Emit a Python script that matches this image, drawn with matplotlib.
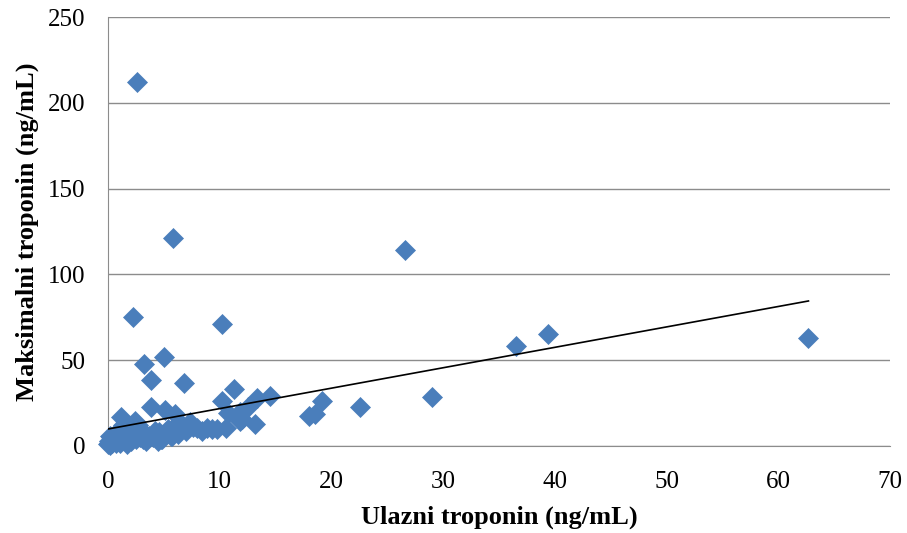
import matplotlib
matplotlib.use("Agg")
import matplotlib.pyplot as plt
import numpy as np

# data (ng/mL)
ulazni = [2.6, 5.8, 26.6, 2.2, 10.2, 39.4, 62.7, 36.5, 3.2, 5.0, 3.85, 6.8, 11.3,
          14.5, 13.3, 29.0, 10.2, 19.2, 22.6, 18.0, 18.5, 12.0, 13.2, 10.7,
          3.85, 5.1, 6.0, 1.2, 2.4, 12.5, 11.8, 11.8, 7.3, 8.0, 8.9, 9.8, 10.6,
          0.0, 0.1, 0.2, 0.3, 0.4, 0.5, 0.6, 0.8, 1.0, 1.1, 1.3, 1.5, 1.6, 1.8,
          2.0, 2.1, 2.3, 2.5, 2.7, 2.9, 3.0, 3.3, 3.5, 3.7, 4.0, 4.2, 4.4, 4.6,
          4.8, 5.2, 5.4, 5.6, 5.9, 6.2, 6.5, 7.0, 7.6, 8.4, 9.3, 0.2, 0.7, 1.4,
          1.9, 2.8, 3.4, 4.1, 4.7, 5.3, 6.3, 0.1, 0.9, 1.7, 3.1, 4.5, 5.7, 6.6]
maksimalni = [212, 121, 114, 75, 71, 65, 63, 58, 48, 52, 38.5, 37, 33,
              29, 28, 28.6, 26, 26, 22.5, 17.5, 18.5, 16, 13, 19,
              22.5, 21, 18.5, 17, 14.5, 23, 20, 14.6, 14, 10.5, 10.5, 10, 10.5,
              1, 3, 0.5, 5, 2, 4, 7, 3, 9, 2, 12, 5, 3, 10,
              6, 3, 8, 4, 12, 5, 9, 7, 4, 6, 5, 9, 6, 8,
              4, 7, 10, 6, 11, 8, 13, 9, 11, 9, 10, 6, 2, 8,
              4, 7, 3, 6, 4, 9, 7, 2, 5, 1, 4, 3, 6, 12]

trend_intercept = 9.9
trend_slope = 1.19
trend_x = [0, 62.7]

x_ticks = [0, 10, 20, 30, 40, 50, 60, 70]
y_ticks = [0, 50, 100, 150, 200, 250]

plt.rcParams['font.family'] = ['Liberation Serif', 'DejaVu Serif']

fig = plt.figure(figsize=(9.07, 5.33), dpi=100)
ax = fig.add_axes([108/907, 1 - 446/533, (890-108)/907, (446-17)/533])

ax.set_xlim(0, 70)
ax.set_ylim(0, 250)
ax.set_xticks(x_ticks)
ax.set_yticks(y_ticks)
ax.grid(axis='y', color='#8c8c8c', linewidth=1)
ax.set_axisbelow(True)
for s in ['top', 'right']:
    ax.spines[s].set_visible(False)
for s in ['left', 'bottom']:
    ax.spines[s].set_color('#8c8c8c')
ax.tick_params(axis='x', length=0, labelsize=18, pad=18)
ax.tick_params(axis='y', length=0, labelsize=18, pad=16)

ax.plot(ulazni, maksimalni, linestyle='none', marker='D', markersize=10.3,
        color='#4a7ebb', markeredgecolor='#4a7ebb', markeredgewidth=0.5,
        clip_on=False, zorder=3)
tx = np.array(trend_x)
ax.plot(tx, trend_intercept + trend_slope * tx, color='black', linewidth=1.2, zorder=4)

ax.set_xlabel('Ulazni troponin (ng/mL)', fontsize=19, fontweight='bold')
ax.set_ylabel('Maksimalni troponin (ng/mL)', fontsize=19, fontweight='bold')
ax.xaxis.set_label_coords(0.5, -0.138)
ax.yaxis.set_label_coords(-0.088, 0.5)

fig.savefig('out.png', dpi=100)
